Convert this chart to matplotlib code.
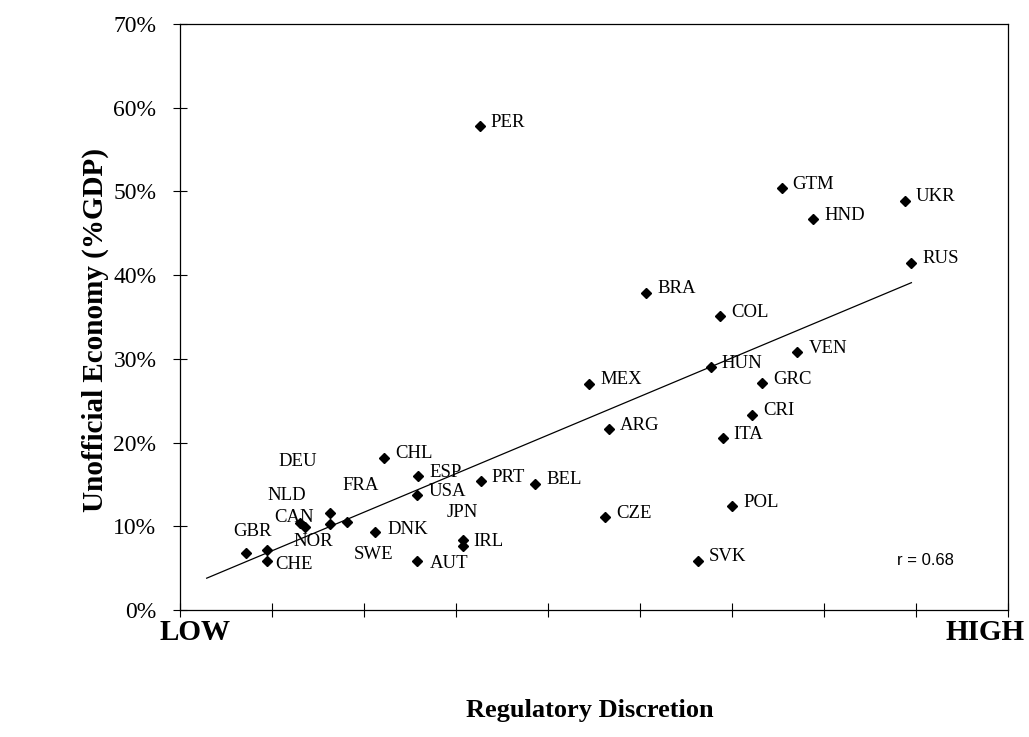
import matplotlib
matplotlib.use("Agg")
import matplotlib.pyplot as plt
from matplotlib.ticker import FuncFormatter

plt.rcParams['font.family'] = ['Liberation Serif', 'DejaVu Serif']

# Données (x : discrétion réglementaire, y : économie informelle en %)
pays = ['PER', 'GTM', 'UKR', 'HND', 'RUS', 'BRA', 'COL', 'VEN', 'HUN', 'MEX',
        'GRC', 'CRI', 'ARG', 'ITA', 'CHL', 'ESP', 'PRT', 'BEL', 'USA', 'POL',
        'CZE', 'SVK', 'AUT', 'IRL', 'JPN', 'GBR', 'CHE', 'NOR', 'CAN', 'NLD',
        'DEU', 'FRA', 'SWE', 'DNK']
discretion = [3.26, 6.54, 7.88, 6.88, 7.95, 5.07, 5.87, 6.71, 5.77, 4.45,
              6.33, 6.22, 4.66, 5.90, 2.22, 2.59, 3.27, 3.86, 2.58, 6.00,
              4.62, 5.63, 2.58, 3.08, 3.08, 0.72, 0.95, 0.95, 1.30, 1.36,
              1.63, 1.63, 1.82, 2.12]
economie = [57.8, 50.4, 48.9, 46.7, 41.5, 37.9, 35.1, 30.8, 29.0, 27.0,
            27.1, 23.3, 21.6, 20.5, 18.2, 16.0, 15.4, 15.1, 13.7, 12.4,
            11.1, 5.9, 5.9, 8.4, 7.6, 6.8, 5.9, 7.2, 10.4, 9.9,
            11.6, 10.3, 10.5, 9.3]

# droite de tendance (extrémités)
tendance_x = [0.29, 7.95]
tendance_y = [3.8, 39.1]
correlation = 0.68

# décalage des étiquettes (pixels) pour celles qui ne sont pas à droite du point
decalages = {
    'DEU': (-32, 51, 'center'), 'NLD': (-18, 32, 'center'), 'FRA': (31, 38, 'center'),
    'CAN': (-6, 5, 'center'), 'GBR': (6, 22, 'center'), 'NOR': (46, 8, 'center'),
    'CHE': (8, -4, 'left'), 'SWE': (26, -32, 'center'), 'AUT': (12, -3, 'left'),
    'JPN': (-1, 34, 'center'), 'IRL': (10, -2, 'left'), 'DNK': (12, 3, 'left'),
}

fig = plt.figure(figsize=(10.29, 7.37), dpi=100)
ax = fig.add_axes([180 / 1029, 127 / 737, 828 / 1029, 586 / 737])

ax.plot(tendance_x, tendance_y, color='black', linewidth=0.9)
ax.plot(discretion, economie, linestyle='none', marker='D', markersize=5,
        color='black')

for nom, x, y in zip(pays, discretion, economie):
    dx, dy, ha = decalages.get(nom, (11, 4, 'left'))
    ax.annotate(nom, (x, y), xytext=(dx, dy), textcoords='offset pixels',
                ha=ha, va='center', fontsize=13.5)

ax.text(0.866, 0.085, f'r = {correlation}', transform=ax.transAxes,
        fontsize=12, family=['Liberation Sans', 'DejaVu Sans'], ha='left', va='center')

ax.set_xlim(0, 9)
ax.set_ylim(0, 70)
ax.set_xticks(range(0, 10))
ax.set_xticklabels([])
ax.set_yticks(range(0, 71, 10))
ax.yaxis.set_major_formatter(FuncFormatter(lambda v, p: f'{v:.0f}%'))
ax.tick_params(direction='inout', length=10, width=0.8, labelsize=17, pad=12)
for s in ax.spines.values():
    s.set_linewidth(0.9)

fig.text(195 / 1029, 1 - 633 / 737, 'LOW', fontsize=21, fontweight='bold',
         ha='center', va='center')
fig.text(985 / 1029, 1 - 633 / 737, 'HIGH', fontsize=21, fontweight='bold',
         ha='center', va='center')
fig.text(590 / 1029, 1 - 710 / 737, 'Regulatory Discretion', fontsize=19,
         fontweight='bold', ha='center', va='center')
fig.text(95 / 1029, 1 - 330 / 737, 'Unofficial Economy (%GDP)', fontsize=21,
         fontweight='bold', ha='center', va='center', rotation=90)

fig.savefig('out.png', dpi=100)
